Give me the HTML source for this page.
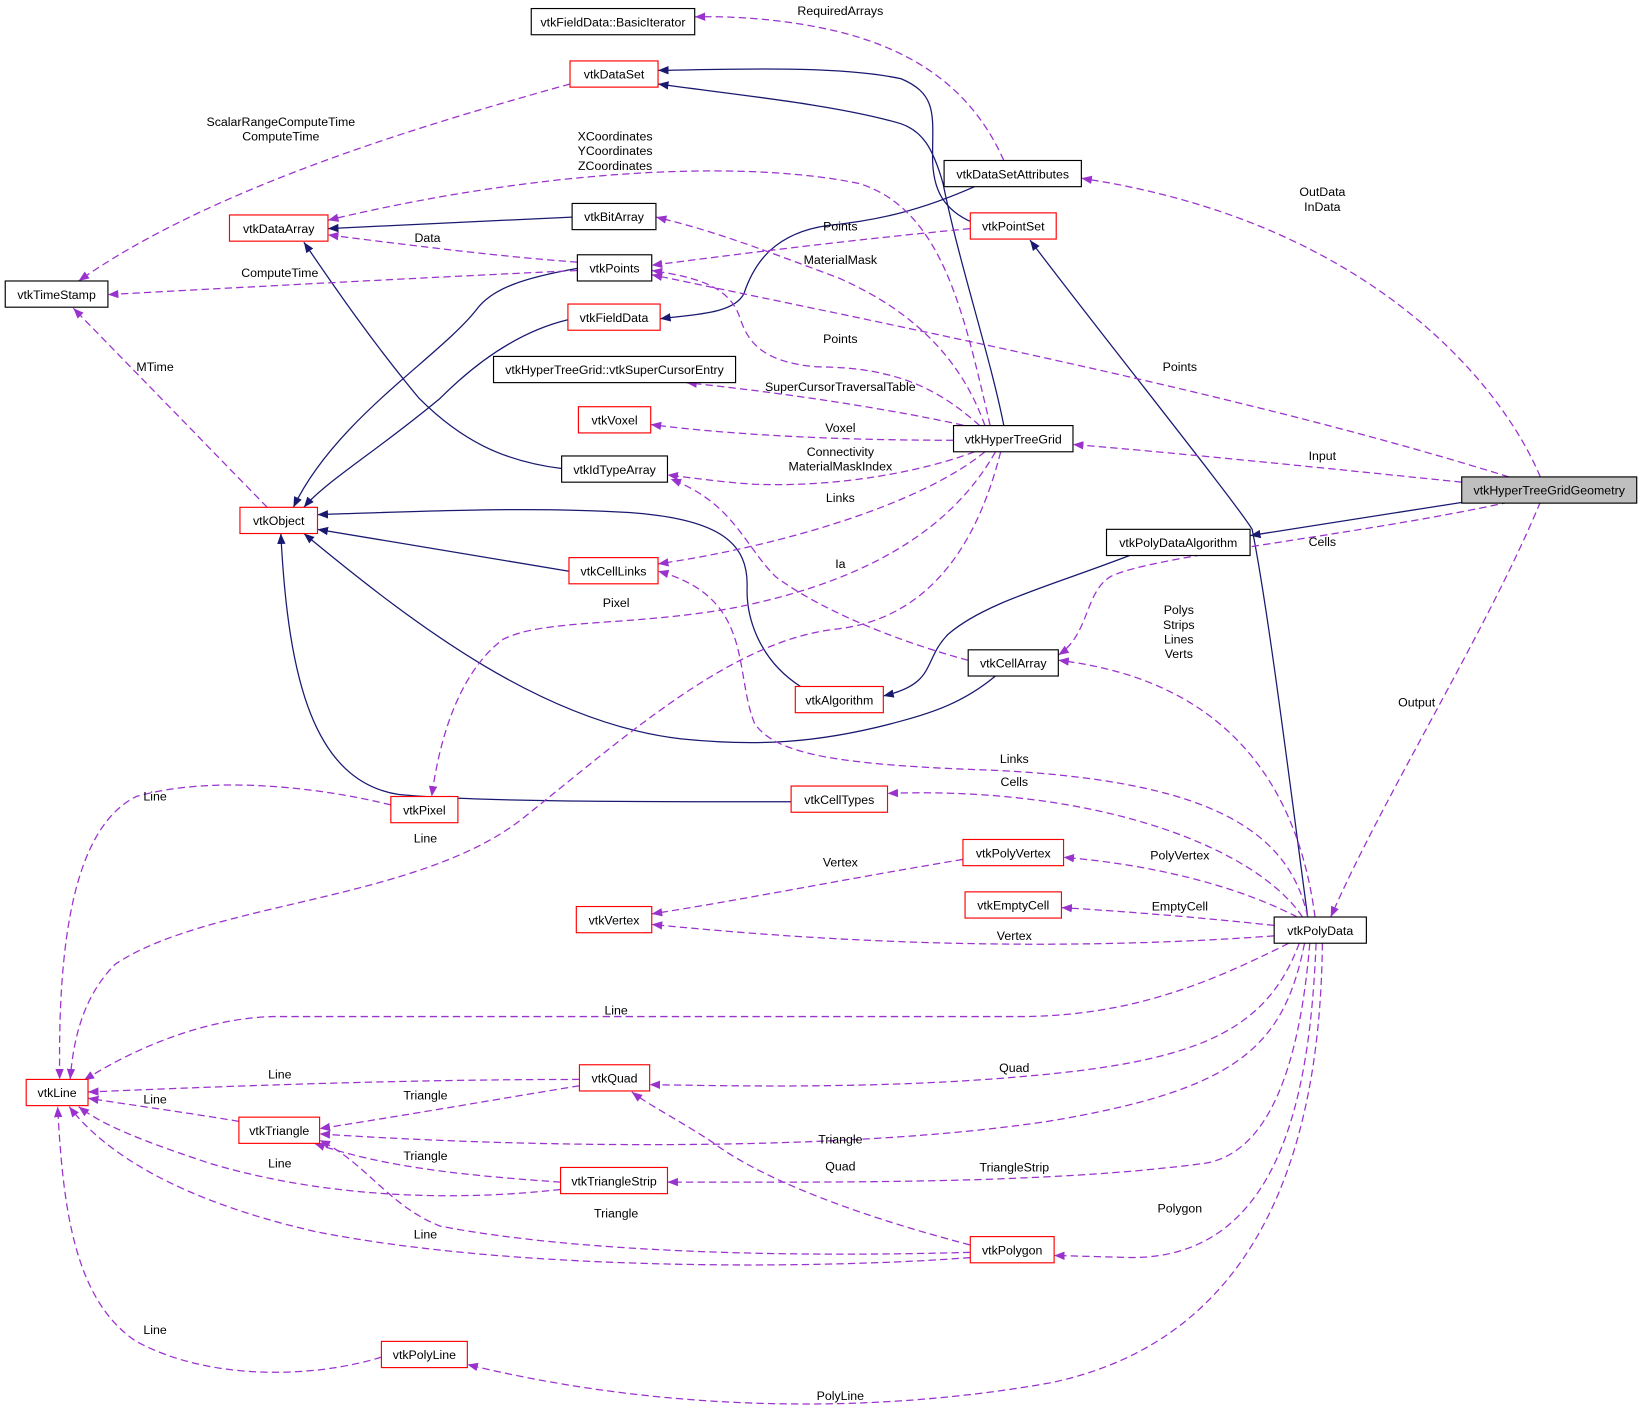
<!DOCTYPE html>
<html><head><meta charset="utf-8"><style>
html,body{margin:0;padding:0;background:#fff;}
svg{display:block;}
text{font-family:"Liberation Sans",Arial,sans-serif;font-size:11.8px;fill:#000;}
.n{fill:#fff;stroke:#000;stroke-width:1.1;}
.r{fill:#fff;stroke:#ff0000;stroke-width:1.1;}
.s{fill:none;stroke:#191970;stroke-width:1.2;marker-end:url(#an);}
.d{fill:none;stroke:#9a32cd;stroke-width:1.2;stroke-dasharray:7,4;marker-end:url(#ap);}
</style></head><body>
<svg width="1643" height="1417" viewBox="0 0 1568 1352" xmlns="http://www.w3.org/2000/svg">
<defs>
<marker id="an" markerUnits="userSpaceOnUse" markerWidth="12" markerHeight="10" refX="10" refY="4" orient="auto"><path d="M0,0 L10,4 L0,8 z" fill="#191970"/></marker>
<marker id="ap" markerUnits="userSpaceOnUse" markerWidth="12" markerHeight="10" refX="10" refY="4" orient="auto"><path d="M0,0 L10,4 L0,8 z" fill="#9a32cd"/></marker>
</defs>
<rect width="1568" height="1352" fill="#fff"/>

<!-- solid edges -->
<path class="s" d="M1397,479 L1193,511"/>
<path class="s" d="M1078,530 C1000,560 940,575 905,605 C880,630 895,652 843,664"/>
<path class="s" d="M764,655 C725,630 712,590 713,560 C714,520 690,495 600,489 C500,483 400,488 303,491"/>
<path class="s" d="M543,545 L303,505"/>
<path class="s" d="M950,645 C920,670 890,680 860,688 C780,710 720,712 650,705 C520,690 400,600 290,509"/>
<path class="s" d="M755,765 C600,765 450,765 380,758 C300,745 275,650 268,509"/>
<path class="s" d="M536,447 C480,440 440,420 400,380 C350,320 310,260 290,231"/>
<path class="s" d="M551,256 C500,265 470,275 455,295 C420,340 320,400 280,484"/>
<path class="s" d="M542,305 C500,315 460,340 420,380 C360,430 310,460 290,484"/>
<path class="s" d="M546,207 L313,218"/>
<path class="s" d="M930,178 C880,200 840,210 790,215 C740,222 720,250 710,280 C700,300 660,300 630,304"/>
<path class="s" d="M928,212 C900,200 890,180 890,150 C890,110 895,90 860,75 C800,62 700,66 628,67"/>
<path class="s" d="M958,406 C945,340 915,250 900,175 C890,140 880,125 860,118 C800,100 700,90 628,80"/>
<path class="s" d="M1248,875 C1230,740 1210,580 1195,505 C1180,480 1040,305 983,229"/>

<!-- dashed edges -->
<path class="d" d="M958,153 C930,90 880,50 800,30 C750,18 700,15 663,16"/>
<path class="d" d="M544,80 C400,120 200,180 75,268"/>
<path class="d" d="M945,406 C920,300 900,200 820,175 C700,150 500,165 313,210"/>
<path class="d" d="M551,250 C480,245 400,235 313,224"/>
<path class="d" d="M551,258 C400,265 250,273 103,281"/>
<path class="d" d="M255,484 L70,294"/>
<path class="d" d="M940,406 C920,350 880,300 800,265 C720,235 680,220 626,207"/>
<path class="d" d="M926,218 C800,230 700,243 622,253"/>
<path class="d" d="M935,406 C900,375 860,350 780,350 C720,345 712,320 705,300 C695,275 670,265 622,258"/>
<path class="d" d="M1440,455 C1200,380 900,320 622,262"/>
<path class="d" d="M1470,455 C1430,360 1300,210 1032,170"/>
<path class="d" d="M1395,460 C1250,445 1100,430 1024,424"/>
<path class="d" d="M1440,479 C1300,510 1100,530 1060,550 C1035,565 1040,605 1010,625"/>
<path class="d" d="M1470,479 C1420,600 1320,760 1270,875"/>
<path class="d" d="M930,408 C850,390 750,375 655,365"/>
<path class="d" d="M910,420 C800,420 700,415 621,405"/>
<path class="d" d="M930,431 C880,450 800,465 720,462 C690,460 660,456 637,453"/>
<path class="d" d="M940,431 C880,480 750,520 628,538"/>
<path class="d" d="M924,630 C850,610 780,580 740,550 C710,520 700,480 640,457"/>
<path class="d" d="M950,431 C900,520 800,560 700,580 C600,598 520,590 480,610 C440,640 420,700 412,760"/>
<path class="d" d="M955,431 C930,530 880,590 800,600 C700,610 600,700 500,780 C400,860 200,860 110,920 C80,950 70,990 67,1030"/>
<path class="d" d="M373,768 C300,750 200,740 130,760 C70,790 55,900 57,1030"/>
<path class="d" d="M1255,875 C1240,760 1180,650 1010,630"/>
<path class="d" d="M1248,875 C1230,790 1150,745 950,735 C800,730 740,720 720,690 C700,640 720,570 628,545"/>
<path class="d" d="M1243,875 C1200,810 1050,750 847,757"/>
<path class="d" d="M1238,875 C1180,845 1100,825 1015,818"/>
<path class="d" d="M1216,883 C1150,876 1080,870 1013,866"/>
<path class="d" d="M1216,893 C1050,905 850,905 622,882"/>
<path class="d" d="M919,820 C800,840 700,860 622,872"/>
<path class="d" d="M1230,900 C1150,940 1080,968 980,970 L260,970 C190,972 120,1005 80,1031"/>
<path class="d" d="M1240,900 C1210,980 1150,1010 1000,1025 C850,1040 700,1036 620,1035"/>
<path class="d" d="M1245,900 C1225,1000 1180,1040 1000,1070 C800,1100 500,1095 305,1082"/>
<path class="d" d="M1250,900 C1240,1020 1210,1100 1150,1110 C1000,1130 800,1128 637,1128"/>
<path class="d" d="M1256,900 C1250,1050 1220,1200 1080,1200 L1006,1198"/>
<path class="d" d="M1262,900 C1260,1100 1200,1280 1000,1320 C800,1355 600,1340 446,1302"/>
<path class="d" d="M553,1030 C400,1030 250,1035 84,1042"/>
<path class="d" d="M553,1036 C480,1048 400,1062 305,1077"/>
<path class="d" d="M228,1070 C180,1062 130,1055 84,1048"/>
<path class="d" d="M535,1128 C450,1122 370,1115 300,1091"/>
<path class="d" d="M535,1135 C420,1148 300,1140 200,1110 C140,1090 100,1075 75,1056"/>
<path class="d" d="M926,1188 C800,1155 720,1120 680,1090 C650,1070 620,1055 603,1042"/>
<path class="d" d="M926,1195 C750,1200 550,1195 420,1170 C370,1150 350,1110 305,1088"/>
<path class="d" d="M926,1200 C800,1210 500,1215 300,1175 C170,1145 100,1100 66,1056"/>
<path class="d" d="M364,1295 C300,1315 200,1318 130,1280 C70,1240 60,1150 55,1056"/>

<!-- edge labels -->
<g text-anchor="middle">
<text x="802" y="14">RequiredArrays</text>
<text x="268" y="120">ScalarRangeComputeTime</text>
<text x="268" y="134">ComputeTime</text>
<text x="587" y="134">XCoordinates</text>
<text x="587" y="148">YCoordinates</text>
<text x="587" y="162">ZCoordinates</text>
<text x="408" y="231">Data</text>
<text x="267" y="264">ComputeTime</text>
<text x="148" y="354">MTime</text>
<text x="802" y="220">Points</text>
<text x="802" y="252">MaterialMask</text>
<text x="802" y="327">Points</text>
<text x="1126" y="354">Points</text>
<text x="1262" y="187">OutData</text>
<text x="1262" y="201">InData</text>
<text x="1262" y="439">Input</text>
<text x="1262" y="521">Cells</text>
<text x="1352" y="674">Output</text>
<text x="802" y="373">SuperCursorTraversalTable</text>
<text x="802" y="412">Voxel</text>
<text x="802" y="435">Connectivity</text>
<text x="802" y="449">MaterialMaskIndex</text>
<text x="802" y="479">Links</text>
<text x="802" y="542">Ia</text>
<text x="588" y="579">Pixel</text>
<text x="406" y="804">Line</text>
<text x="148" y="764">Line</text>
<text x="1125" y="586">Polys</text>
<text x="1125" y="600">Strips</text>
<text x="1125" y="614">Lines</text>
<text x="1125" y="628">Verts</text>
<text x="968" y="728">Links</text>
<text x="968" y="750">Cells</text>
<text x="1126" y="820">PolyVertex</text>
<text x="1126" y="869">EmptyCell</text>
<text x="968" y="897">Vertex</text>
<text x="802" y="827">Vertex</text>
<text x="588" y="968">Line</text>
<text x="968" y="1023">Quad</text>
<text x="802" y="1091">Triangle</text>
<text x="968" y="1118">TriangleStrip</text>
<text x="1126" y="1157">Polygon</text>
<text x="802" y="1336">PolyLine</text>
<text x="267" y="1029">Line</text>
<text x="406" y="1049">Triangle</text>
<text x="148" y="1053">Line</text>
<text x="406" y="1107">Triangle</text>
<text x="267" y="1114">Line</text>
<text x="802" y="1117">Quad</text>
<text x="588" y="1162">Triangle</text>
<text x="406" y="1182">Line</text>
<text x="148" y="1273">Line</text>
</g>

<!-- nodes -->
<g text-anchor="middle">
<rect class="n" x="507" y="8" width="156" height="25"/><text x="585" y="25">vtkFieldData::BasicIterator</text>
<rect class="r" x="544" y="58" width="84" height="25"/><text x="586" y="75">vtkDataSet</text>
<rect class="n" x="901" y="153" width="131" height="25"/><text x="966.5" y="170">vtkDataSetAttributes</text>
<rect class="r" x="926" y="203" width="82" height="25"/><text x="967" y="220">vtkPointSet</text>
<rect class="n" x="546" y="194" width="80" height="25"/><text x="586" y="211">vtkBitArray</text>
<rect class="r" x="219" y="205" width="94" height="25"/><text x="266" y="222">vtkDataArray</text>
<rect class="n" x="551" y="243" width="71" height="25"/><text x="586.5" y="260">vtkPoints</text>
<rect class="n" x="5" y="268" width="98" height="25"/><text x="54" y="285">vtkTimeStamp</text>
<rect class="r" x="542" y="290" width="88" height="25"/><text x="586" y="307">vtkFieldData</text>
<rect class="n" x="471" y="340" width="231" height="25"/><text x="586.5" y="357">vtkHyperTreeGrid::vtkSuperCursorEntry</text>
<rect class="r" x="552" y="388" width="69" height="25"/><text x="586.5" y="405">vtkVoxel</text>
<rect class="n" x="910" y="406" width="114" height="25"/><text x="967" y="423">vtkHyperTreeGrid</text>
<rect class="n" x="536" y="435" width="101" height="25"/><text x="586.5" y="452">vtkIdTypeArray</text>
<rect x="1395" y="455" width="167" height="25" fill="#bfbfbf" stroke="#000" stroke-width="1.1"/><text x="1478.5" y="472">vtkHyperTreeGridGeometry</text>
<rect class="r" x="229" y="484" width="74" height="25"/><text x="266" y="501">vtkObject</text>
<rect class="n" x="1056" y="505" width="137" height="25"/><text x="1124.5" y="522">vtkPolyDataAlgorithm</text>
<rect class="r" x="543" y="532" width="85" height="25"/><text x="585.5" y="549">vtkCellLinks</text>
<rect class="n" x="924" y="620" width="86" height="25"/><text x="967" y="637">vtkCellArray</text>
<rect class="r" x="759" y="655" width="84" height="25"/><text x="801" y="672">vtkAlgorithm</text>
<rect class="r" x="373" y="760" width="64" height="25"/><text x="405" y="777">vtkPixel</text>
<rect class="r" x="755" y="750" width="92" height="25"/><text x="801" y="767">vtkCellTypes</text>
<rect class="r" x="919" y="801" width="96" height="25"/><text x="967" y="818">vtkPolyVertex</text>
<rect class="r" x="921" y="851" width="92" height="25"/><text x="967" y="868">vtkEmptyCell</text>
<rect class="r" x="550" y="865" width="72" height="25"/><text x="586" y="882">vtkVertex</text>
<rect class="n" x="1216" y="875" width="88" height="25"/><text x="1260" y="892">vtkPolyData</text>
<rect class="r" x="25" y="1030" width="59" height="25"/><text x="54.5" y="1047">vtkLine</text>
<rect class="r" x="553" y="1016" width="67" height="25"/><text x="586.5" y="1033">vtkQuad</text>
<rect class="r" x="228" y="1066" width="77" height="25"/><text x="266.5" y="1083">vtkTriangle</text>
<rect class="r" x="535" y="1114" width="102" height="25"/><text x="586" y="1131">vtkTriangleStrip</text>
<rect class="r" x="926" y="1180" width="80" height="25"/><text x="966" y="1197">vtkPolygon</text>
<rect class="r" x="364" y="1280" width="82" height="25"/><text x="405" y="1297">vtkPolyLine</text>
</g>
</svg>
</body></html>
